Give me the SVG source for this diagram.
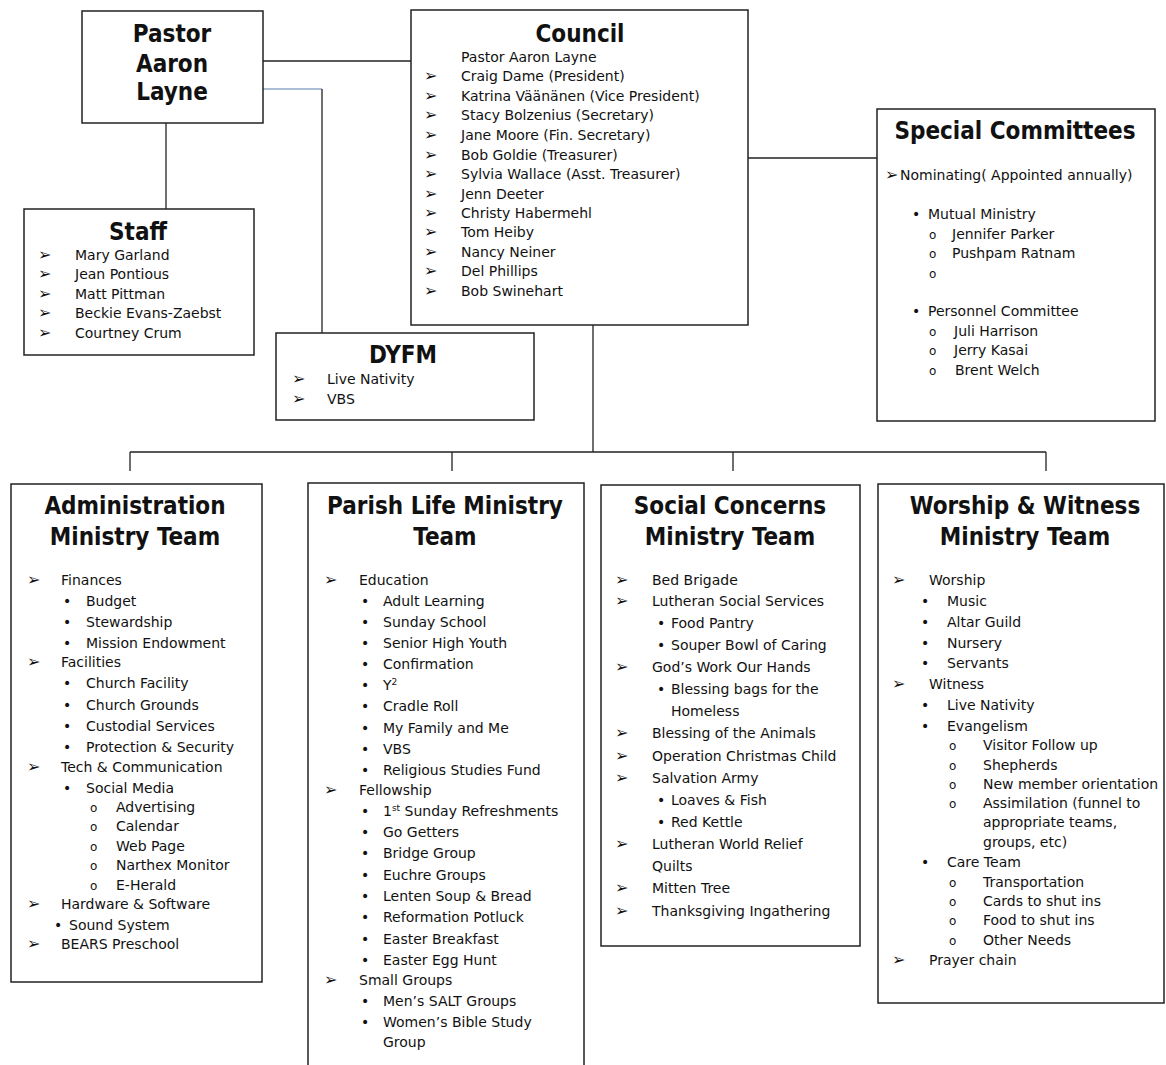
<svg xmlns="http://www.w3.org/2000/svg" width="1166" height="1065" viewBox="0 0 1166 1065">
<style>
text{font-family:"DejaVu Sans",sans-serif;fill:#111}
.t{font-size:14px}
.h{font-size:24px;font-weight:bold;text-anchor:middle;font-family:"DejaVu Sans Condensed","DejaVu Sans",sans-serif;font-stretch:condensed}
.a{font-size:16px}
.o{font-size:12px}
.box{fill:#fff;stroke:#222;stroke-width:1.5}
.ln{fill:none;stroke:#222;stroke-width:1.3}
</style>
<rect width="1166" height="1065" fill="#fff"/>
<g id="connectors">
<path class="ln" d="M263 61H411"/>
<path fill="none" stroke="#8fa8c8" stroke-width="1.3" d="M263 89H322"/>
<path class="ln" d="M322 89V333" stroke="#444"/>
<path class="ln" d="M166 123V209"/>
<path class="ln" d="M748 158H877"/>
<path class="ln" d="M593 325V452M130 452H1046M130 452V471M452 452V471M733 452V471M1046 452V471"/>
</g>
<g id="pastor">
<rect class="box" x="82" y="11" width="181" height="112"/>
<text class="h" x="172" y="42">Pastor</text>
<text class="h" x="172" y="72">Aaron</text>
<text class="h" x="172" y="100">Layne</text>
</g>
<g id="staff">
<rect class="box" x="24" y="209" width="230" height="146"/>
<text class="h" x="138" y="240">Staff</text>
<text class="a" x="38" y="260">➢</text><text class="t" x="75" y="260">Mary Garland</text>
<text class="a" x="38" y="279">➢</text><text class="t" x="75" y="279">Jean Pontious</text>
<text class="a" x="38" y="299">➢</text><text class="t" x="75" y="299">Matt Pittman</text>
<text class="a" x="38" y="318">➢</text><text class="t" x="75" y="318">Beckie Evans-Zaebst</text>
<text class="a" x="38" y="338">➢</text><text class="t" x="75" y="338">Courtney Crum</text>
</g>
<g id="council">
<rect class="box" x="411" y="10" width="337" height="315"/>
<text class="h" x="580" y="42">Council</text>
<text class="t" x="461" y="62">Pastor Aaron Layne</text>
<text class="a" x="424" y="81">➢</text><text class="t" x="461" y="81">Craig Dame (President)</text>
<text class="a" x="424" y="101">➢</text><text class="t" x="461" y="101">Katrina Väänänen (Vice President)</text>
<text class="a" x="424" y="120">➢</text><text class="t" x="461" y="120">Stacy Bolzenius  (Secretary)</text>
<text class="a" x="424" y="140">➢</text><text class="t" x="461" y="140">Jane Moore (Fin. Secretary)</text>
<text class="a" x="424" y="160">➢</text><text class="t" x="461" y="160">Bob Goldie (Treasurer)</text>
<text class="a" x="424" y="179">➢</text><text class="t" x="461" y="179">Sylvia Wallace (Asst. Treasurer)</text>
<text class="a" x="424" y="199">➢</text><text class="t" x="461" y="199">Jenn Deeter</text>
<text class="a" x="424" y="218">➢</text><text class="t" x="461" y="218">Christy Habermehl</text>
<text class="a" x="424" y="237">➢</text><text class="t" x="461" y="237">Tom Heiby</text>
<text class="a" x="424" y="257">➢</text><text class="t" x="461" y="257">Nancy Neiner</text>
<text class="a" x="424" y="276">➢</text><text class="t" x="461" y="276">Del Phillips</text>
<text class="a" x="424" y="296">➢</text><text class="t" x="461" y="296">Bob Swinehart</text>
</g>
<g id="special">
<rect class="box" x="877" y="109" width="278" height="312"/>
<text class="h" x="1015" y="139">Special Committees</text>
<text class="a" x="885" y="180">➢</text><text class="t" x="900" y="180">Nominating( Appointed annually)</text>
<text class="t" x="912" y="219">•</text><text class="t" x="928" y="219">Mutual Ministry</text>
<text class="o" x="929" y="239">o</text><text class="t" x="952" y="239">Jennifer Parker</text>
<text class="o" x="929" y="258">o</text><text class="t" x="952" y="258">Pushpam Ratnam</text>
<text class="o" x="929" y="278">o</text>
<text class="t" x="912" y="316">•</text><text class="t" x="928" y="316">Personnel Committee</text>
<text class="o" x="929" y="336">o</text><text class="t" x="954" y="336">Juli Harrison</text>
<text class="o" x="929" y="355">o</text><text class="t" x="954" y="355">Jerry Kasai</text>
<text class="o" x="929" y="375">o</text><text class="t" x="955" y="375">Brent Welch</text>
</g>
<g id="dyfm">
<rect class="box" x="276" y="333" width="258" height="87"/>
<text class="h" x="403" y="363">DYFM</text>
<text class="a" x="292" y="384">➢</text><text class="t" x="327" y="384">Live Nativity</text>
<text class="a" x="292" y="404">➢</text><text class="t" x="327" y="404">VBS</text>
</g>
<g id="administration">
<rect class="box" x="11" y="484" width="251" height="498"/>
<text class="h" x="135" y="514">Administration</text>
<text class="h" x="135" y="545">Ministry Team</text>
<text class="a" x="27" y="585">➢</text><text class="t" x="61" y="585">Finances</text>
<text class="t" x="63" y="606">•</text><text class="t" x="86" y="606">Budget</text>
<text class="t" x="63" y="627">•</text><text class="t" x="86" y="627">Stewardship</text>
<text class="t" x="63" y="648">•</text><text class="t" x="86" y="648">Mission Endowment</text>
<text class="a" x="27" y="667">➢</text><text class="t" x="61" y="667">Facilities</text>
<text class="t" x="63" y="688">•</text><text class="t" x="86" y="688">Church Facility</text>
<text class="t" x="63" y="710">•</text><text class="t" x="86" y="710">Church Grounds</text>
<text class="t" x="63" y="731">•</text><text class="t" x="86" y="731">Custodial Services</text>
<text class="t" x="63" y="752">•</text><text class="t" x="86" y="752">Protection &amp; Security</text>
<text class="a" x="27" y="772">➢</text><text class="t" x="61" y="772">Tech &amp; Communication</text>
<text class="t" x="63" y="793">•</text><text class="t" x="86" y="793">Social Media</text>
<text class="o" x="90" y="812">o</text><text class="t" x="116" y="812">Advertising</text>
<text class="o" x="90" y="831">o</text><text class="t" x="116" y="831">Calendar</text>
<text class="o" x="90" y="851">o</text><text class="t" x="116" y="851">Web Page</text>
<text class="o" x="90" y="870">o</text><text class="t" x="116" y="870">Narthex Monitor</text>
<text class="o" x="90" y="890">o</text><text class="t" x="116" y="890">E-Herald</text>
<text class="a" x="27" y="909">➢</text><text class="t" x="61" y="909">Hardware &amp; Software</text>
<text class="t" x="54" y="930">•</text><text class="t" x="69" y="930">Sound System</text>
<text class="a" x="27" y="949">➢</text><text class="t" x="61" y="949">BEARS Preschool</text>
</g>
<g id="parish">
<rect class="box" x="308" y="483" width="276" height="590"/>
<text class="h" x="445" y="514">Parish Life Ministry</text>
<text class="h" x="445" y="545">Team</text>
<text class="a" x="324" y="585">➢</text><text class="t" x="359" y="585">Education</text>
<text class="t" x="361" y="606">•</text><text class="t" x="383" y="606">Adult Learning</text>
<text class="t" x="361" y="627">•</text><text class="t" x="383" y="627">Sunday School</text>
<text class="t" x="361" y="648">•</text><text class="t" x="383" y="648">Senior High Youth</text>
<text class="t" x="361" y="669">•</text><text class="t" x="383" y="669">Confirmation</text>
<text class="t" x="361" y="690">•</text><text class="t" x="383" y="690">Y<tspan font-size="9" dy="-5">2</tspan></text>
<text class="t" x="361" y="711">•</text><text class="t" x="383" y="711">Cradle Roll</text>
<text class="t" x="361" y="733">•</text><text class="t" x="383" y="733">My Family and Me</text>
<text class="t" x="361" y="754">•</text><text class="t" x="383" y="754">VBS</text>
<text class="t" x="361" y="775">•</text><text class="t" x="383" y="775">Religious Studies Fund</text>
<text class="a" x="324" y="795">➢</text><text class="t" x="359" y="795">Fellowship</text>
<text class="t" x="361" y="816">•</text><text class="t" x="383" y="816">1<tspan font-size="9" dy="-5">st</tspan><tspan dy="5"> Sunday Refreshments</tspan></text>
<text class="t" x="361" y="837">•</text><text class="t" x="383" y="837">Go Getters</text>
<text class="t" x="361" y="858">•</text><text class="t" x="383" y="858">Bridge Group</text>
<text class="t" x="361" y="880">•</text><text class="t" x="383" y="880">Euchre Groups</text>
<text class="t" x="361" y="901">•</text><text class="t" x="383" y="901">Lenten Soup &amp; Bread</text>
<text class="t" x="361" y="922">•</text><text class="t" x="383" y="922">Reformation Potluck</text>
<text class="t" x="361" y="944">•</text><text class="t" x="383" y="944">Easter Breakfast</text>
<text class="t" x="361" y="965">•</text><text class="t" x="383" y="965">Easter Egg Hunt</text>
<text class="a" x="324" y="985">➢</text><text class="t" x="359" y="985">Small Groups</text>
<text class="t" x="361" y="1006">•</text><text class="t" x="383" y="1006">Men’s SALT Groups</text>
<text class="t" x="361" y="1027">•</text><text class="t" x="383" y="1027">Women’s Bible Study</text>
<text class="t" x="383" y="1047">Group</text>
</g>
<g id="social">
<rect class="box" x="601" y="485" width="259" height="461"/>
<text class="h" x="730" y="514">Social Concerns</text>
<text class="h" x="730" y="545">Ministry Team</text>
<text class="a" x="615" y="585">➢</text><text class="t" x="652" y="585">Bed Brigade</text>
<text class="a" x="615" y="606">➢</text><text class="t" x="652" y="606">Lutheran Social Services</text>
<text class="t" x="657" y="628">•</text><text class="t" x="671" y="628">Food Pantry</text>
<text class="t" x="657" y="650">•</text><text class="t" x="671" y="650">Souper Bowl of Caring</text>
<text class="a" x="615" y="672">➢</text><text class="t" x="652" y="672">God’s Work Our Hands</text>
<text class="t" x="657" y="694">•</text><text class="t" x="671" y="694">Blessing bags for the</text>
<text class="t" x="671" y="716">Homeless</text>
<text class="a" x="615" y="738">➢</text><text class="t" x="652" y="738">Blessing of the Animals</text>
<text class="a" x="615" y="761">➢</text><text class="t" x="652" y="761">Operation Christmas Child</text>
<text class="a" x="615" y="783">➢</text><text class="t" x="652" y="783">Salvation Army</text>
<text class="t" x="657" y="805">•</text><text class="t" x="671" y="805">Loaves &amp; Fish</text>
<text class="t" x="657" y="827">•</text><text class="t" x="671" y="827">Red Kettle</text>
<text class="a" x="615" y="849">➢</text><text class="t" x="652" y="849">Lutheran World Relief</text>
<text class="t" x="652" y="871">Quilts</text>
<text class="a" x="615" y="893">➢</text><text class="t" x="652" y="893">Mitten Tree</text>
<text class="a" x="615" y="916">➢</text><text class="t" x="652" y="916">Thanksgiving Ingathering</text>
</g>
<g id="worship">
<rect class="box" x="878" y="484" width="286" height="519"/>
<text class="h" x="1025" y="514">Worship &amp; Witness</text>
<text class="h" x="1025" y="545">Ministry Team</text>
<text class="a" x="892" y="585">➢</text><text class="t" x="929" y="585">Worship</text>
<text class="t" x="921" y="606">•</text><text class="t" x="947" y="606">Music</text>
<text class="t" x="921" y="627">•</text><text class="t" x="947" y="627">Altar Guild</text>
<text class="t" x="921" y="648">•</text><text class="t" x="947" y="648">Nursery</text>
<text class="t" x="921" y="668">•</text><text class="t" x="947" y="668">Servants</text>
<text class="a" x="892" y="689">➢</text><text class="t" x="929" y="689">Witness</text>
<text class="t" x="921" y="710">•</text><text class="t" x="947" y="710">Live Nativity</text>
<text class="t" x="921" y="731">•</text><text class="t" x="947" y="731">Evangelism</text>
<text class="o" x="949" y="750">o</text><text class="t" x="983" y="750">Visitor Follow up</text>
<text class="o" x="949" y="770">o</text><text class="t" x="983" y="770">Shepherds</text>
<text class="o" x="949" y="789">o</text><text class="t" x="983" y="789">New member orientation</text>
<text class="o" x="949" y="808">o</text><text class="t" x="983" y="808">Assimilation (funnel to</text>
<text class="t" x="983" y="827">appropriate teams,</text>
<text class="t" x="983" y="847">groups, etc)</text>
<text class="t" x="921" y="867">•</text><text class="t" x="947" y="867">Care Team</text>
<text class="o" x="949" y="887">o</text><text class="t" x="983" y="887">Transportation</text>
<text class="o" x="949" y="906">o</text><text class="t" x="983" y="906">Cards to shut ins</text>
<text class="o" x="949" y="925">o</text><text class="t" x="983" y="925">Food to shut ins</text>
<text class="o" x="949" y="945">o</text><text class="t" x="983" y="945">Other Needs</text>
<text class="a" x="892" y="965">➢</text><text class="t" x="929" y="965">Prayer chain</text>
</g>
</svg>
